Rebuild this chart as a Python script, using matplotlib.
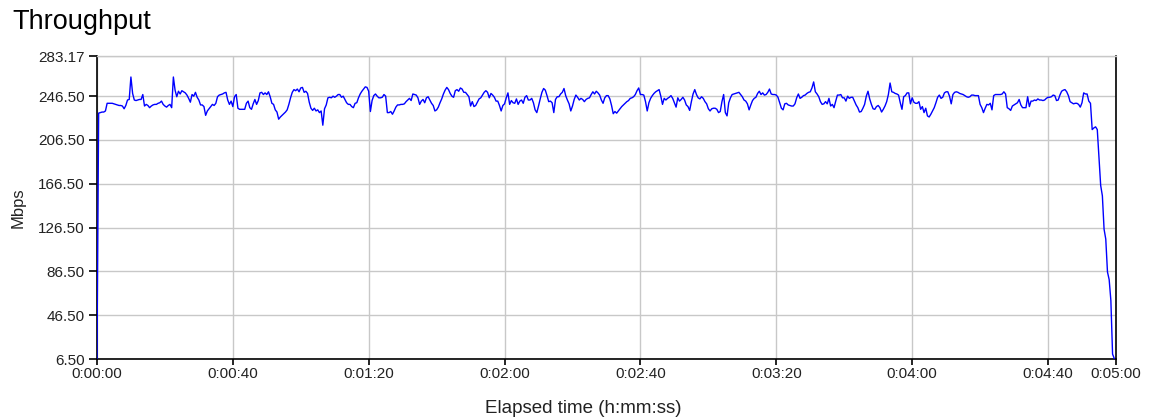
import numpy as np
import matplotlib.pyplot as plt
from matplotlib.ticker import FuncFormatter

# Throughput samples (Mbps), one every half second from 0:00:00
sample_step = 0.5
mbps = [
    6.5, 231, 231.5, 232, 232, 233, 240, 240, 240, 240, 239.5, 239, 238.5, 238, 238, 237.5, 235, 238, 243, 243.5,
    264, 249, 243, 242.5, 243, 243.5, 243.5, 248, 237.5, 239, 238, 236, 237.5, 238.5, 239, 239, 240, 240.5, 242, 239,
    237.5, 236.5, 238, 239, 236, 264, 252, 246, 251, 248.5, 251.5, 250.5, 249.5, 247.5, 244.5, 241, 248, 246.5, 250, 245.5,
    243, 238.5, 238.5, 237, 229, 233, 235, 237, 239, 238, 240, 246, 247.5, 248, 248.5, 249.5, 250, 243, 239, 242,
    237, 246, 248, 235.5, 234.5, 234.5, 234.5, 234.5, 240, 242, 236, 234.5, 239.5, 243.5, 239, 242.5, 249.5, 250, 248, 249.5,
    248, 250.5, 246, 240, 239, 234, 232, 225.5, 227.5, 229, 230.5, 232, 234, 239, 245, 250, 252.5, 251.5, 253, 250.5,
    254, 254.5, 250, 251, 249, 241, 235.5, 233.5, 235.5, 233, 234, 231.5, 233, 220, 235, 238.5, 245, 245.5, 245, 246.5,
    245.5, 246.5, 248, 248, 245.5, 246.5, 243.5, 240.5, 239, 239, 237, 236, 240, 240.5, 245, 248.5, 251, 253, 255, 254.5,
    251, 232.5, 242.5, 247, 248.5, 246.5, 245, 245, 245.5, 248, 246.5, 231.5, 231.5, 232.5, 230, 233, 236.5, 238.5, 238.5, 239,
    239, 239.5, 241.5, 243, 244.5, 242.5, 248.5, 248, 247.5, 245, 239, 242, 243.5, 240.5, 245, 246, 243, 240, 238, 233,
    234, 236.5, 240.5, 244, 248.5, 252, 254.5, 252.5, 249, 246.5, 245.5, 251.5, 252.5, 251, 254, 253, 250, 250, 248, 246,
    237.5, 241.5, 237, 238, 241, 244, 245, 247.5, 250, 251.5, 250, 245, 249, 247.5, 245.5, 242, 242, 238, 233, 238,
    239.5, 245, 249.5, 239, 242.5, 240.5, 240, 244, 239, 242, 243, 240, 245.5, 247, 243, 243, 244.5, 240.5, 234, 231.5,
    237.5, 244, 250, 253.5, 252, 247, 241.5, 242, 240.5, 231.5, 243.5, 246, 246, 248.5, 250, 253.5, 247, 243, 239.5, 233,
    237.5, 243.5, 247.5, 245.5, 243, 244.5, 243.5, 241.5, 243.5, 244.5, 245, 248, 250.5, 248.5, 251, 249.5, 247.5, 243, 240, 245,
    247, 247, 244, 238, 230.5, 232.5, 231, 233, 235, 237, 238.5, 240, 241.5, 242.5, 244.5, 245, 246, 248, 251.5, 254,
    248, 248, 247.5, 241.5, 233, 240.5, 244.5, 247, 249, 250.5, 251.5, 252.5, 246.5, 239, 244.5, 243, 244.5, 245.5, 247, 244.5,
    240.5, 236.5, 245, 242, 243.5, 245.5, 243, 238.5, 237, 233.5, 241.5, 248.5, 252.5, 248, 245, 244, 246, 244.5, 241.5, 239.5,
    235, 233, 235, 235.5, 235.5, 234.5, 231.5, 232.5, 241.5, 248, 231.5, 228.5, 240.5, 245, 248, 248.5, 249, 249.5, 250, 248,
    246, 243, 242, 239.5, 234, 238.5, 242.5, 244.5, 245.5, 249, 251, 248, 249.5, 247.5, 248, 250, 253, 248.5, 248, 248,
    247.5, 245.5, 240.5, 235.5, 234, 239.5, 240, 238.5, 238, 237.5, 237.5, 239.5, 245, 248.5, 244.5, 245.5, 247, 247.5, 249, 250,
    250.5, 254, 259.5, 250.5, 248.5, 246, 241.5, 239, 239.5, 241.5, 239.5, 244.5, 237.5, 239, 236, 242, 247.5, 247.5, 248, 245,
    245, 242, 246.5, 244.5, 245.5, 245.5, 242, 238.5, 236, 232, 232.5, 235.5, 239, 246.5, 251, 244, 239, 235, 234.5, 237,
    238, 236, 232, 234.5, 237.5, 241.5, 248, 258.5, 250.5, 250, 249, 248.5, 247.5, 240.5, 234.5, 246, 247, 249.5, 249.5, 239.5,
    245, 241, 240, 240, 241.5, 234.5, 237, 231.5, 235.5, 228.5, 227.5, 230, 233, 236, 240.5, 245.5, 247.5, 244.5, 245.5, 249.5,
    250.5, 250.5, 246.5, 239.5, 248, 250, 250.5, 250, 249, 248.5, 248, 247, 246, 245.5, 246, 247.5, 247.5, 247, 247, 247,
    239, 236, 231.5, 235.5, 239, 238.5, 240, 234, 247, 248, 248, 248, 248, 248.5, 250.5, 248.5, 236, 235, 233.5, 237.5,
    238.5, 239.5, 240.5, 243.5, 238.5, 236, 236, 236, 246, 237, 242, 242, 243, 242.5, 244, 243, 243, 242.5, 243, 244.5,
    245.5, 245.5, 246, 247.5, 247, 242.5, 243, 247.5, 251, 252, 252.5, 250.5, 247, 241.5, 240.5, 239.5, 240, 240, 239, 236.5,
    240.5, 249.5, 248.5, 248.5, 242, 240, 216, 217.5, 218.5, 216, 190, 165, 155.5, 125, 116, 86, 79, 60, 11, 7,
]
seconds = np.arange(len(mbps)) * sample_step

y_ticks = [6.50, 46.50, 86.50, 126.50, 166.50, 206.50, 246.50, 283.17]
x_ticks = [0, 40, 80, 120, 160, 200, 240, 280, 300]


def hms(val, pos=None):
    s = int(round(val))
    return f"{s // 3600}:{(s % 3600) // 60:02d}:{s % 60:02d}"


plt.rcParams['font.family'] = ['Liberation Sans', 'DejaVu Sans']

fig = plt.figure(figsize=(11.5, 4.18), dpi=100)
ax = fig.add_axes([0.0843, 0.1411, 0.8861, 0.7249])

ax.plot(seconds, mbps, color='#0000ff', linewidth=1.0, zorder=3)

ax.set_xlim(0, 300)
ax.set_ylim(y_ticks[0], y_ticks[-1])
ax.set_yticks(y_ticks)
ax.set_yticklabels([f"{v:.2f}" for v in y_ticks])
ax.set_xticks(x_ticks)
ax.xaxis.set_major_formatter(FuncFormatter(hms))

ax.grid(True, color='#c8c8c8', linewidth=1.0, linestyle='-')
ax.set_axisbelow(True)

for side in ['left', 'bottom', 'right']:
    ax.spines[side].set_color('black')
    ax.spines[side].set_linewidth(1.2)
ax.spines['top'].set_color('#c8c8c8')
ax.spines['top'].set_linewidth(1.0)

ax.tick_params(axis='y', direction='out', length=6, width=1.2, labelsize=11, pad=3, colors='black')
ax.tick_params(axis='x', direction='out', length=4, width=1.2, labelsize=11, pad=2, colors='black')
ax.tick_params(axis='both', labelcolor='#222222')

ax.set_ylabel('Mbps', fontsize=12, color='#222222')
ax.yaxis.set_label_coords(-0.077, 0.5)
ax.set_xlabel('Elapsed time (h:mm:ss)', fontsize=13.5, color='#222222')
ax.xaxis.set_label_coords(0.477, -0.162)
ax.xaxis.label.set_va('center')
ax.yaxis.label.set_va('center')

fig.text(0.0104, 0.947, 'Throughput', fontsize=19.5, va='center', ha='left')

fig.savefig('out.png', dpi=100, facecolor='white')
